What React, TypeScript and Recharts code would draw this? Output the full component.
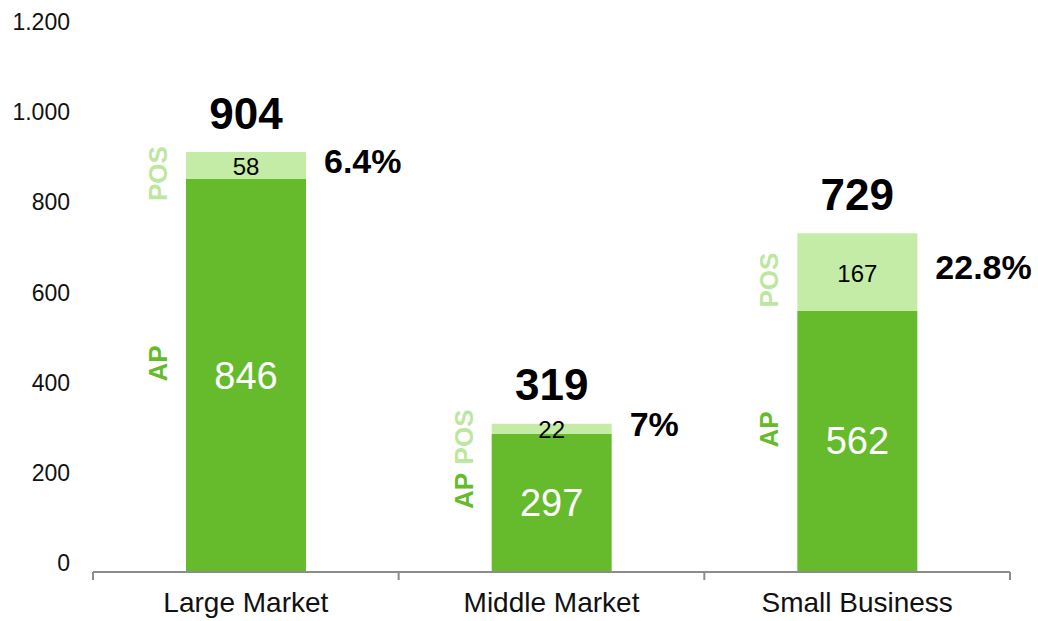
import { Bar, BarChart, LabelList, XAxis, YAxis } from 'recharts'

const CATEGORIES = ['Large Market', 'Middle Market', 'Small Business']
const AP = [846, 297, 562]
const POS = [58, 22, 167]
const POS_SHARE = ['6.4%', '7%', '22.8%']
const Y_TICKS = [0, 200, 400, 600, 800, 1000, 1200]

const AP_GREEN = '#66bb2c'
const POS_GREEN = '#c4eca6'
const POS_TEXT = '#bde69f'
const AXIS = '#8c8c8c'
const INK = '#000000'

const PLOT_W = 917

if (typeof document !== 'undefined') document.body.style.margin = '0'

const data = CATEGORIES.map((name, i) => ({
  name,
  ap: AP[i],
  pos: POS[i],
  total: AP[i] + POS[i],
  share: POS_SHARE[i],
}))

// 1.200 style thousands separator
const fmt = (v: number) => String(v).replace(/\B(?=(\d{3})+(?!\d))/g, '.')

// category label plus tick marks on the band edges
function CategoryTick(props: any) {
  const { x, y, payload, index, visibleTicksCount } = props
  const half = payload?.offset ? payload.offset : PLOT_W / CATEGORIES.length / 2
  const last = index === (visibleTicksCount ?? CATEGORIES.length) - 1
  return (
    <g>
      <line x1={x - half} y1={y} x2={x - half} y2={y + 8} stroke={AXIS} strokeWidth={2} />
      {last && <line x1={x + half} y1={y} x2={x + half} y2={y + 8} stroke={AXIS} strokeWidth={2} />}
      <text x={x} y={y + 20} dy="0.71em" fill="#111" fontSize={28} textAnchor="middle">
        {payload.value}
      </text>
    </g>
  )
}

function ApLabel(props: any) {
  const x = Number(props.x)
  const y = Number(props.y)
  const w = Number(props.width)
  const h = Number(props.height)
  const cx = x + w / 2
  const cy = y + h / 2
  const lx = x - 28
  const ly = cy - 12
  return (
    <g>
      <text x={cx} y={cy} fill="#fff" fontSize={38} textAnchor="middle" dominantBaseline="central">
        {props.value}
      </text>
      <text
        x={lx}
        y={ly}
        transform={`rotate(-90 ${lx} ${ly})`}
        fill={AP_GREEN}
        fontSize={26}
        fontWeight="bold"
        textAnchor="middle"
        dominantBaseline="central"
      >
        AP
      </text>
    </g>
  )
}

function PosLabel(props: any) {
  const x = Number(props.x)
  const y = Number(props.y)
  const w = Number(props.width)
  const h = Number(props.height)
  const d = data[props.index]
  const cx = x + w / 2
  const cy = y + h / 2
  const lx = x - 28
  const ly = cy + 8
  return (
    <g>
      <text x={cx} y={cy + 1} fill={INK} fontSize={24} textAnchor="middle" dominantBaseline="central">
        {props.value}
      </text>
      <text
        x={lx}
        y={ly}
        transform={`rotate(-90 ${lx} ${ly})`}
        fill={POS_TEXT}
        fontSize={26}
        fontWeight="bold"
        textAnchor="middle"
        dominantBaseline="central"
      >
        POS
      </text>
      <text x={cx} y={y - 39} fill={INK} fontSize={44} fontWeight="bold" textAnchor="middle" dominantBaseline="central">
        {d.total}
      </text>
      <text x={x + w + 18} y={cy - 5} fill={INK} fontSize={34} fontWeight="bold" textAnchor="start" dominantBaseline="central">
        {d.share}
      </text>
    </g>
  )
}

export default function App() {
  return (
    <div style={{ fontFamily: '"Liberation Sans", Arial, sans-serif' }}>
      <BarChart
        width={1038}
        height={621}
        data={data}
        margin={{ top: 22, right: 28, bottom: 0, left: 0 }}
      >
        <XAxis
          dataKey="name"
          axisLine={{ stroke: AXIS, strokeWidth: 2 }}
          tickLine={false}
          tickSize={0}
          tickMargin={0}
          height={49}
          tick={<CategoryTick />}
          interval={0}
        />
        <YAxis
          yAxisId="labels"
          type="number"
          domain={[-20, 1200]}
          ticks={Y_TICKS}
          allowDataOverflow
          axisLine={false}
          tickLine={false}
          tickSize={0}
          tickMargin={23}
          width={93}
          tick={{ fill: '#111', fontSize: 23 }}
          tickFormatter={fmt}
        />
        <YAxis yAxisId="bars" hide width={0} type="number" domain={[0, 1184]} allowDataOverflow />
        <Bar dataKey="ap" stackId="s" yAxisId="bars" fill={AP_GREEN} barSize={120} isAnimationActive={false}>
          <LabelList dataKey="ap" content={<ApLabel />} />
        </Bar>
        <Bar dataKey="pos" stackId="s" yAxisId="bars" fill={POS_GREEN} barSize={120} isAnimationActive={false}>
          <LabelList dataKey="pos" content={<PosLabel />} />
        </Bar>
      </BarChart>
    </div>
  )
}
